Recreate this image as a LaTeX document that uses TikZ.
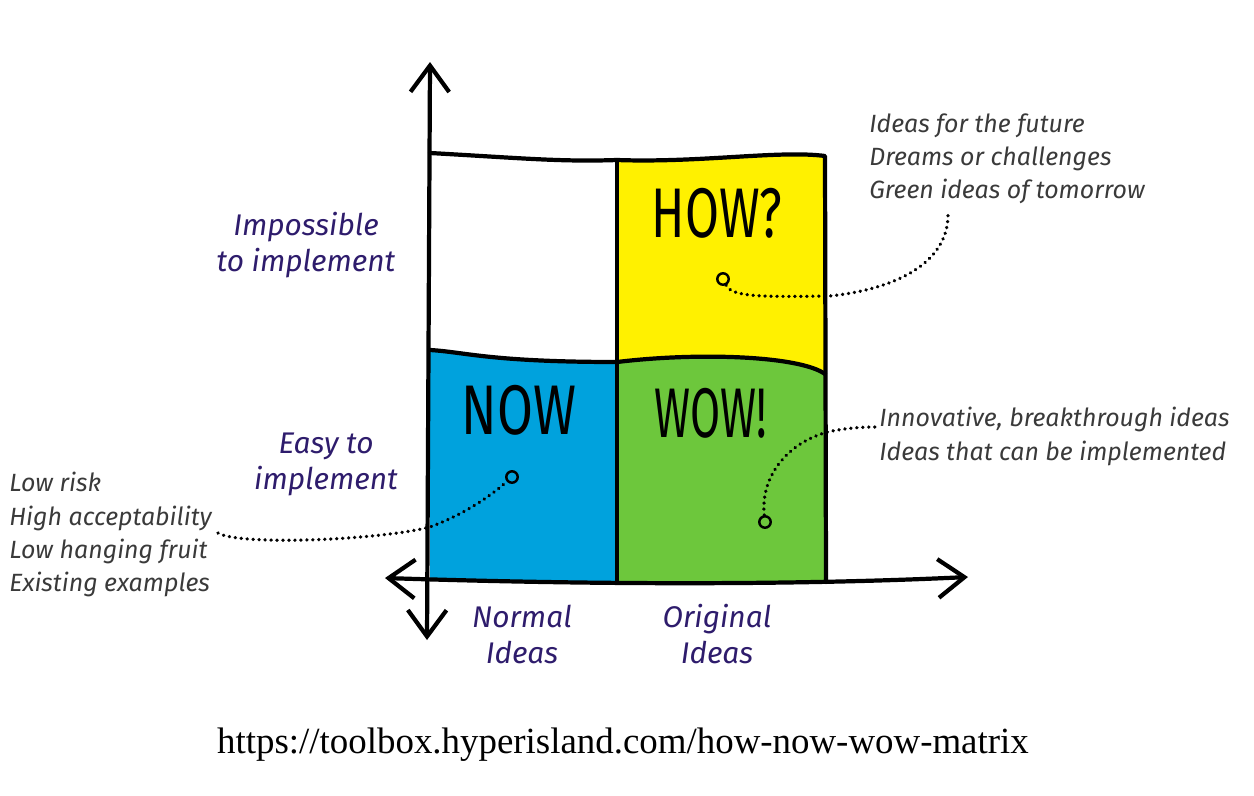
\documentclass[tikz,border=0pt]{standalone}
\usepackage{fontspec}
\setmainfont{Fira Sans}
\newfontfamily\urlfont{Liberation Serif}
\usetikzlibrary{arrows.meta,positioning}
\definecolor{howYellow}{HTML}{FFF100}
\definecolor{nowBlue}{HTML}{00A2DD}
\definecolor{wowGreen}{HTML}{6DC73C}
\definecolor{labelPurple}{HTML}{2E1C6C}
\definecolor{noteGray}{HTML}{3A3A3A}

\begin{document}
\begin{tikzpicture}[x=0.02cm, y=-0.02cm,
    edge/.style={line width=2.4pt, line join=round, line cap=round},
    axis/.style={line width=2.4pt, line cap=round,
      {Straight Barb[length=15pt,width=22pt,line width=2.4pt]}-{Straight Barb[length=15pt,width=22pt,line width=2.4pt]}},
    word/.style={font=\fontsize{40}{40}\selectfont, inner sep=0pt},
    axislabel/.style={font=\fontsize{17}{20.5}\selectfont\itshape, text=labelPurple, align=center},
    note/.style={font=\fontsize{14.2}{19}\selectfont\itshape, text=noteGray, align=left, anchor=north west, inner sep=0pt},
    dot/.style={circle, draw, line width=1.4pt, minimum size=6.5pt, inner sep=0pt},
    link/.style={line width=2pt, dash pattern=on 0.1pt off 3.3pt, line cap=round}
  ]
  \useasboundingbox (0,0) rectangle (1254,795);

  % corners of the matrix
  \coordinate (tl) at (430,153);
  \coordinate (tm) at (617,160);
  \coordinate (tr) at (825,156);
  \coordinate (ml) at (430,350);
  \coordinate (mm) at (617,362);
  \coordinate (mr) at (825,374);
  \coordinate (bl) at (430,580);
  \coordinate (bm) at (617,582);
  \coordinate (br) at (826,582);

  % quadrants
  \fill[howYellow] (tm) .. controls (700,163) and (780,150) .. (tr) -- (mr)
    .. controls (800,356) and (700,352) .. (mm) -- cycle;
  \fill[nowBlue] (ml) .. controls (465,352) and (490,362) .. (mm) -- (bm) -- (bl) -- cycle;
  \fill[wowGreen] (mm) .. controls (700,352) and (800,356) .. (mr) -- (br) -- (bm) -- cycle;

  % outlines
  \draw[edge] (tl) .. controls (520,158) and (560,162) .. (tm)
    .. controls (700,163) and (780,150) .. (tr) -- (br);
  \draw[edge] (tm) -- (bm);
  \draw[edge] (ml) .. controls (465,352) and (490,362) .. (mm)
    .. controls (700,352) and (800,356) .. (mr);

  % axes
  \coordinate (ytop) at (430,62);
  \coordinate (ybot) at (427,640);
  \coordinate (xleft) at (385,578);
  \coordinate (xright) at (968,577);
  \draw[axis] (ybot) -- (ytop);
  \draw[axis] (xleft) .. controls (600,585) and (800,585) .. (xright);

  % big words
  \node[word] (how) at (717,213) {\scalebox{0.7}[1]{HOW?}};
  \node[word] (now) at (519,410) {\scalebox{0.74}[1]{NOW}};
  \node[word] (wow) at (711,413) {\scalebox{0.62}[1]{WOW!}};

  % axis labels
  \node[axislabel] (hard) at (306,245) {Impossible\\to implement};
  \node[axislabel] (easy) at (326,464) {Easy to\\implement};
  \node[axislabel] (normal) at (522,634) {Normal\\Ideas};
  \node[axislabel] (original) at (717,634) {Original\\Ideas};

  % notes
  \node[note] (hownote) at (869,113) {Ideas for the future\\Dreams or challenges\\Green ideas of tomorrow};
  \node[note] (wownote) at (879,407) {Innovative, breakthrough ideas\\Ideas that can be implemented};
  \node[note] (nownote) at (9,472) {Low risk\\High acceptability\\Low hanging fruit\\Existing examples};

  % dots and dotted links
  \node[dot] (howdot) at (723,279) {};
  \node[dot] (nowdot) at (512,477) {};
  \node[dot] (wowdot) at (765,522) {};
  \coordinate (howend) at (948,215);
  \coordinate (wowend) at (875,427);
  \coordinate (nowend) at (218,533);

  \draw[link] (howdot) .. controls (732,297) and (760,297) .. (830,296)
    .. controls (905,288) and (948,258) .. (howend);
  \draw[link] (wowdot) .. controls (760,475) and (790,440) .. (832,431)
    .. controls (848,428) and (862,427) .. (wowend);
  \draw[link] (nowend) .. controls (240,546) and (380,540) .. (430,527)
    .. controls (470,512) and (495,492) .. (nowdot);

  % source
  \node[font=\urlfont\fontsize{21}{24}\selectfont] (source) at (623,745) {https://toolbox.hyperisland.com/how-now-wow-matrix};
\end{tikzpicture}
\end{document}
